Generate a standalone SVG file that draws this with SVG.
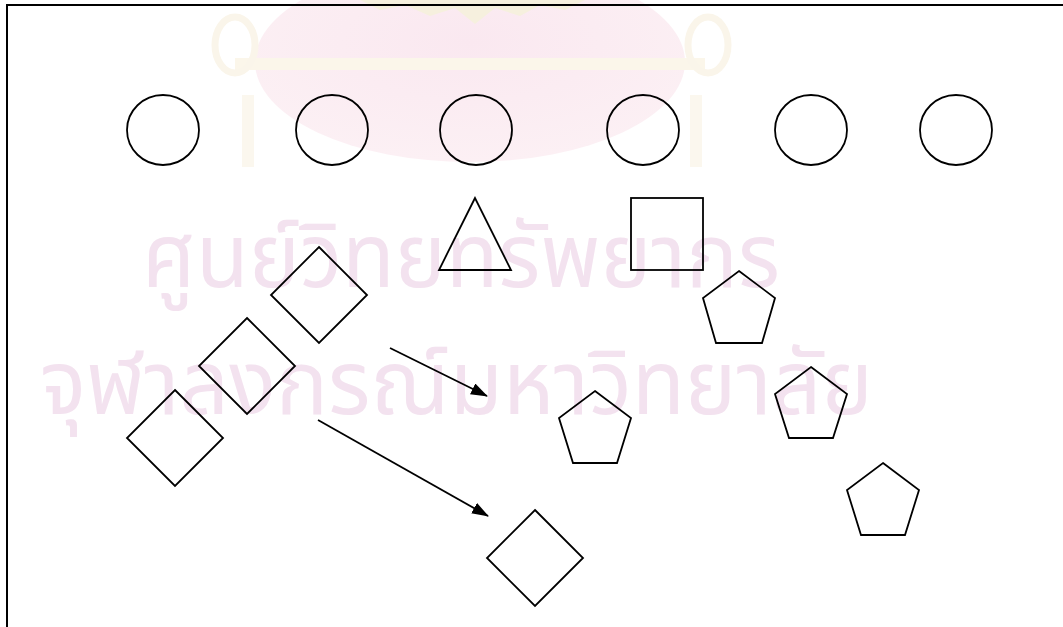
<svg xmlns="http://www.w3.org/2000/svg" width="1063" height="627" viewBox="0 0 1063 627">
  <style>
    .shape { fill: none; stroke: #000; stroke-width: 1.8; }
    .conn { fill: none; stroke: #000; stroke-width: 1.8; }
    .wm { fill: #f3e2ef; font-family: "Noto Sans Thai", "Noto Sans Thai UI", "Noto Sans", "DejaVu Sans", sans-serif; font-size: 90px; }
  </style>
  <defs>
    <marker id="arrow" markerWidth="17" markerHeight="12" refX="16" refY="6" orient="auto" markerUnits="userSpaceOnUse" viewBox="0 0 17 12">
      <path d="M0,0 L17,6 L0,12 Z" fill="#000"/>
    </marker>
    <radialGradient id="pink" cx="0.5" cy="0.4" r="0.6">
      <stop offset="0" stop-color="#fae8f0"/>
      <stop offset="1" stop-color="#fcf0f4"/>
    </radialGradient>
  </defs>
  <rect x="0" y="0" width="1063" height="627" fill="#fff"/>

  <!-- watermark emblem -->
  <g id="watermark">
    <ellipse cx="470" cy="62" rx="215" ry="100" fill="url(#pink)"/>
    <rect x="235" y="58" width="470" height="12" fill="#fbf6ea"/>
    <path d="M360,0 L585,0 L565,10 L540,5 L520,16 L495,8 L475,24 L455,8 L430,16 L405,5 L380,10 Z" fill="#f6f0de"/>
    <ellipse cx="235" cy="45" rx="20" ry="28" fill="none" stroke="#faf5ea" stroke-width="7"/>
    <ellipse cx="708" cy="45" rx="20" ry="28" fill="none" stroke="#faf5ea" stroke-width="7"/>
    <rect x="242" y="95" width="12" height="72" fill="#fbf7ee"/>
    <rect x="690" y="95" width="12" height="72" fill="#fbf7ee"/>
    <text class="wm" x="142" y="287" textLength="638" lengthAdjust="spacingAndGlyphs">ศูนย์วิทยทรัพยากร</text>
    <text class="wm" x="40" y="414" textLength="833" lengthAdjust="spacingAndGlyphs">จุฬาลงกรณ์มหาวิทยาลัย</text>
  </g>

  <!-- frame -->
  <path d="M7,627 L7,5 L1063,5" fill="none" stroke="#000" stroke-width="2"/>

  <g id="circle1"><ellipse class="shape" cx="163" cy="130" rx="36" ry="35"/></g>
  <g id="circle2"><ellipse class="shape" cx="332" cy="130" rx="36" ry="35"/></g>
  <g id="circle3"><ellipse class="shape" cx="476" cy="130" rx="36" ry="35"/></g>
  <g id="circle4"><ellipse class="shape" cx="643" cy="130" rx="36" ry="35"/></g>
  <g id="circle5"><ellipse class="shape" cx="811" cy="130" rx="36" ry="35"/></g>
  <g id="circle6"><ellipse class="shape" cx="956" cy="130" rx="36" ry="35"/></g>

  <g id="triangle"><polygon class="shape" points="475,198 439,270 511,270"/></g>
  <g id="square"><rect class="shape" x="631" y="198" width="72" height="72"/></g>

  <g id="diamond1"><polygon class="shape" points="319,247 367,295 319,343 271,295"/></g>
  <g id="diamond2"><polygon class="shape" points="247,318 295,366 247,414 199,366"/></g>
  <g id="diamond3"><polygon class="shape" points="175,390 223,438 175,486 127,438"/></g>
  <g id="diamond4"><polygon class="shape" points="535,510 583,558 535,606 487,558"/></g>

  <g id="pentagon1"><polygon class="shape" points="739,271 775,298 762,343 716,343 703,298"/></g>
  <g id="pentagon2"><polygon class="shape" points="811,367 847,394 833,438 789,438 775,394"/></g>
  <g id="pentagon3"><polygon class="shape" points="595,391 631,418 617,463 573,463 559,418"/></g>
  <g id="pentagon4"><polygon class="shape" points="883,463 919,490 905,535 861,535 847,490"/></g>

  <g id="connectors">
    <line class="conn" x1="390" y1="348" x2="487" y2="396" marker-end="url(#arrow)"/>
    <line class="conn" x1="318" y1="420" x2="488" y2="516" marker-end="url(#arrow)"/>
  </g>
</svg>
